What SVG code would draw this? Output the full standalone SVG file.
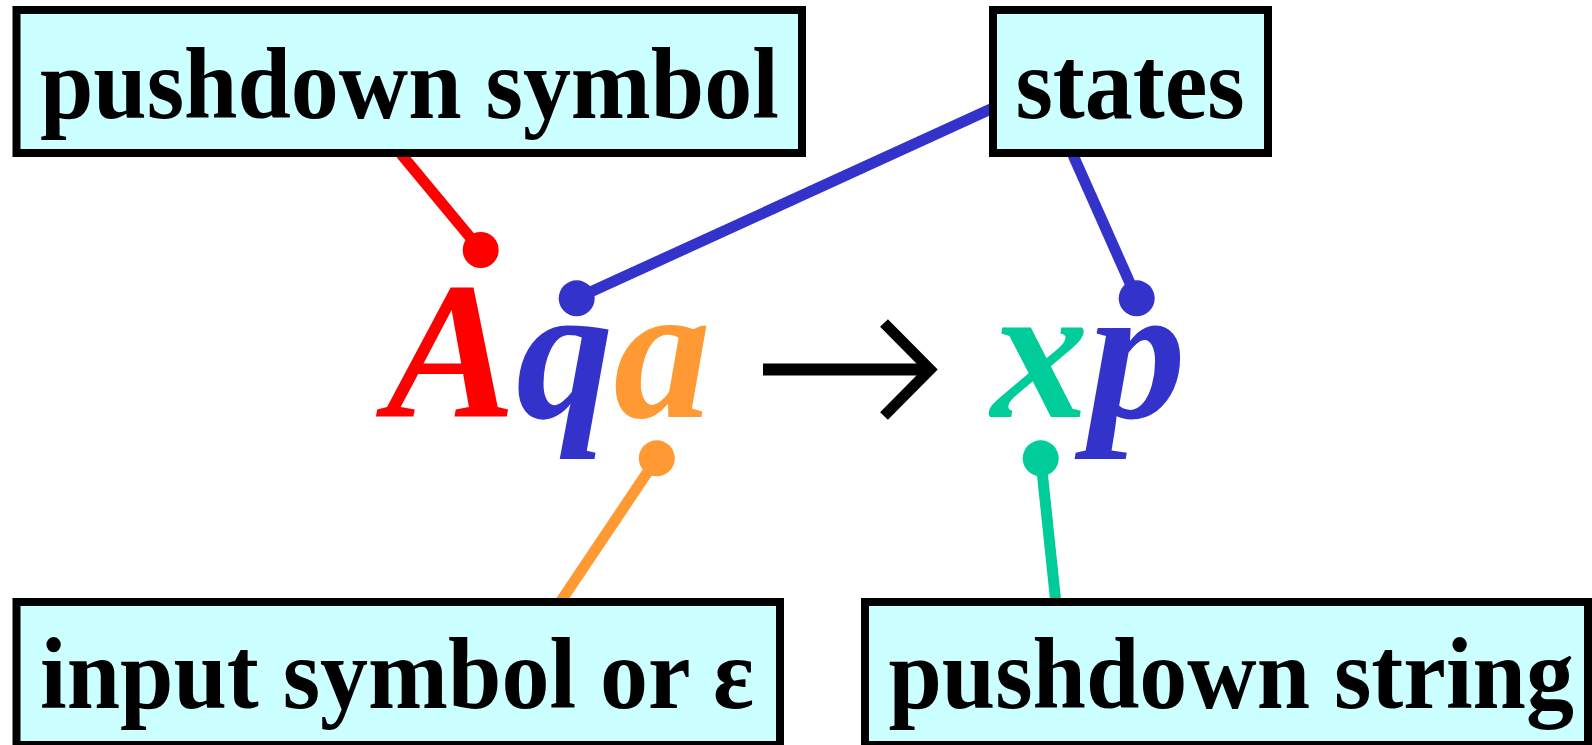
<svg xmlns="http://www.w3.org/2000/svg" width="1592" height="745" viewBox="0 0 1592 745">
<style>
.box{fill:#CCFFFF;stroke:#000;stroke-width:8}
.lbl{font-family:"Liberation Serif","Times New Roman",serif;font-weight:bold;font-size:96px;fill:#000}
.f{font-family:"Liberation Serif","Times New Roman",serif;font-weight:bold;font-style:italic;font-size:195px}
.c{stroke-width:11;fill:none}
</style>
<rect width="1592" height="745" fill="#fff"/>
<g id="connectors">
<line class="c" x1="401" y1="154" x2="480.7" y2="250" stroke="#FF0000"/>
<circle cx="480.7" cy="250" r="18" fill="#FF0000"/>
<line class="c" x1="993" y1="108" x2="576.7" y2="298.3" stroke="#3333CC"/>
<circle cx="576.7" cy="298.3" r="18" fill="#3333CC"/>
<line class="c" x1="1073" y1="155" x2="1136.7" y2="298.3" stroke="#3333CC"/>
<circle cx="1136.7" cy="298.3" r="18" fill="#3333CC"/>
<line class="c" x1="656.8" y1="458.3" x2="561" y2="601" stroke="#FF9933"/>
<circle cx="656.8" cy="458.3" r="18" fill="#FF9933"/>
<line class="c" x1="1040.7" y1="458.3" x2="1055.7" y2="601" stroke="#00CC99"/>
<circle cx="1040.7" cy="458.3" r="18" fill="#00CC99"/>
</g>
<g id="node-pushdown-symbol">
<rect class="box" x="16.5" y="10" width="785.5" height="143"/>
<text class="lbl" x="40" y="112.4" transform="scale(1,1.05)">pushdown symbol</text>
</g>
<g id="node-states">
<rect class="box" x="993" y="10" width="275" height="143"/>
<text class="lbl" x="1015.5" y="112.4" transform="scale(1,1.05)">states</text>
</g>
<g id="node-input-symbol">
<rect class="box" x="16.5" y="602" width="763.5" height="143"/>
<text class="lbl" x="40" y="674.3" transform="scale(1,1.05)">input symbol or ε</text>
</g>
<g id="node-pushdown-string">
<rect class="box" x="865" y="602" width="723" height="143"/>
<text class="lbl" x="888.5" y="674.3" transform="scale(1,1.05)">pushdown string</text>
</g>
<g id="formula">
<text class="f" x="386" y="416.5"><tspan fill="#FF0000">A</tspan><tspan fill="#3333CC">q</tspan><tspan fill="#FF9933">a</tspan></text>
<rect x="763" y="363.5" width="160" height="12" fill="#000"/>
<polyline points="884,323 930,369.5 884,416" fill="none" stroke="#000" stroke-width="11" stroke-linejoin="miter"/>
<text class="f" x="991" y="416.5"><tspan fill="#00CC99">x</tspan><tspan fill="#3333CC">p</tspan></text>
</g>
</svg>
